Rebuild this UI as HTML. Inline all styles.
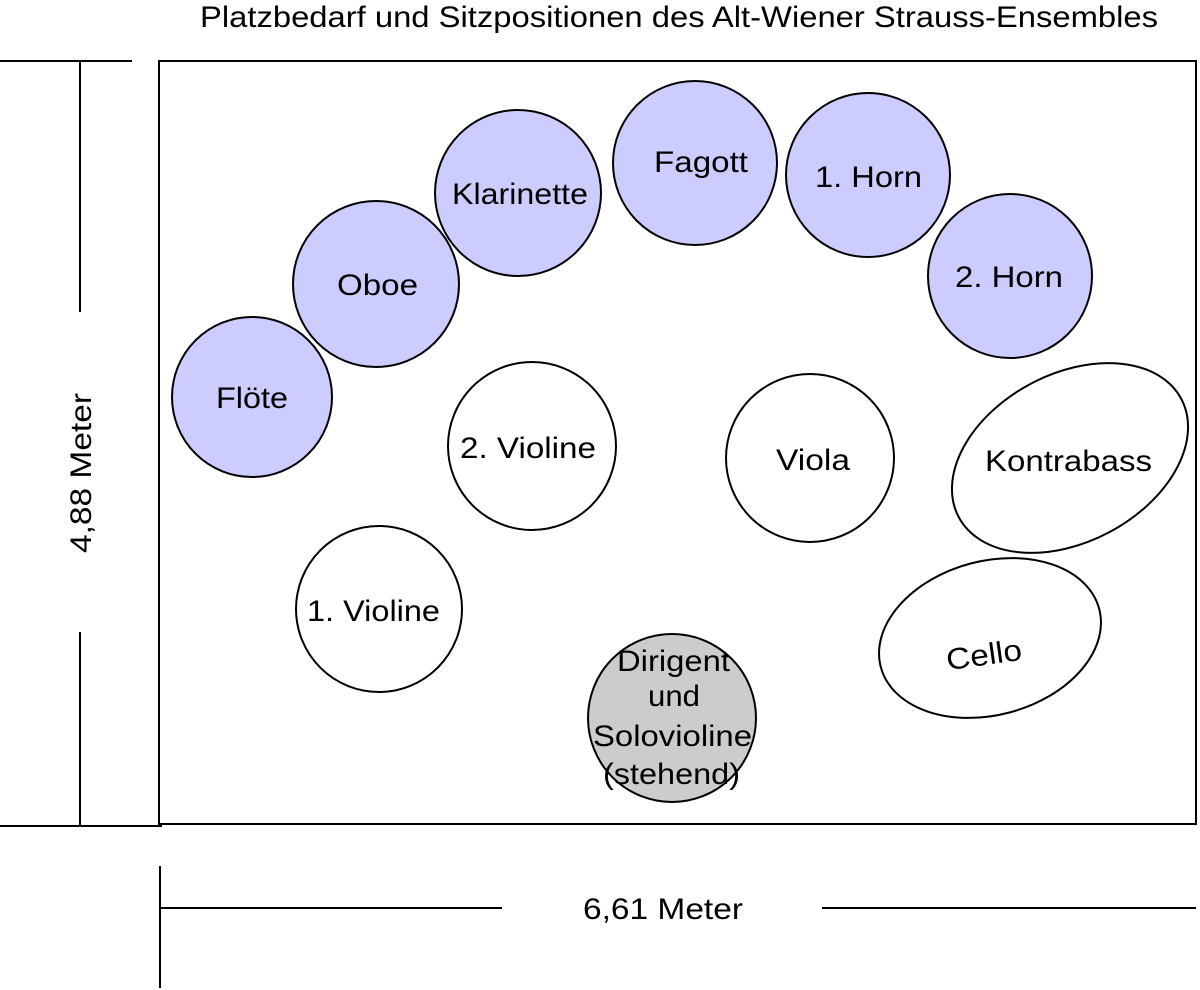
<!DOCTYPE html>
<html><head><meta charset="utf-8"><style>
html,body{margin:0;padding:0;background:#fff}
svg{display:block}
text{font-family:"Liberation Sans",Arial,sans-serif;fill:#000}
</style></head><body>
<svg width="1200" height="990" viewBox="0 0 1200 990" xmlns="http://www.w3.org/2000/svg">
<text x="200" y="27" font-size="30" textLength="958" lengthAdjust="spacingAndGlyphs">Platzbedarf und Sitzpositionen des Alt-Wiener Strauss-Ensembles</text>
<rect x="159" y="61" width="1037" height="763" fill="none" stroke="#000" stroke-width="2"/>
<g stroke="#000" stroke-width="2">
<line x1="0" y1="61" x2="132" y2="61"/>
<line x1="80" y1="61" x2="80" y2="312"/>
<line x1="80" y1="632" x2="80" y2="826"/>
<line x1="0" y1="826" x2="162" y2="826"/>
<line x1="160" y1="866" x2="160" y2="988"/>
<line x1="160" y1="908" x2="502" y2="908"/>
<line x1="822" y1="908" x2="1196" y2="908"/>
</g>
<text x="0" y="0" font-size="30" textLength="160" lengthAdjust="spacingAndGlyphs" transform="translate(91,553) rotate(-90)">4,88 Meter</text>
<text x="583" y="919" font-size="30" textLength="160" lengthAdjust="spacingAndGlyphs">6,61 Meter</text>
<g stroke="#000" stroke-width="2" fill="#ccccff">
<circle cx="252" cy="397" r="80"/>
<circle cx="376" cy="284" r="83"/>
<circle cx="518" cy="193" r="83"/>
<circle cx="695" cy="163" r="82"/>
<circle cx="868" cy="175" r="82"/>
<circle cx="1010" cy="276" r="82"/>
</g>
<g stroke="#000" stroke-width="2" fill="#fff">
<circle cx="532" cy="446" r="84"/>
<circle cx="810" cy="458" r="84"/>
<circle cx="379" cy="609" r="83"/>
<ellipse cx="1070" cy="458" rx="126" ry="84" transform="rotate(-28 1070 458)"/>
<ellipse cx="990" cy="638" rx="113" ry="77" transform="rotate(-15 990 638)"/>
</g>
<circle cx="672" cy="718" r="84" fill="#cccccc" stroke="#000" stroke-width="2"/>
<g font-size="30">
<text x="216" y="408" textLength="72" lengthAdjust="spacingAndGlyphs">Flöte</text>
<text x="337" y="295" textLength="81" lengthAdjust="spacingAndGlyphs">Oboe</text>
<text x="452" y="204" textLength="136" lengthAdjust="spacingAndGlyphs">Klarinette</text>
<text x="654" y="172" textLength="94" lengthAdjust="spacingAndGlyphs">Fagott</text>
<text x="815" y="187" textLength="107" lengthAdjust="spacingAndGlyphs">1. Horn</text>
<text x="955" y="287" textLength="108" lengthAdjust="spacingAndGlyphs">2. Horn</text>
<text x="460" y="458" textLength="136" lengthAdjust="spacingAndGlyphs">2. Violine</text>
<text x="776" y="470" textLength="74" lengthAdjust="spacingAndGlyphs">Viola</text>
<text x="985" y="471" textLength="167" lengthAdjust="spacingAndGlyphs">Kontrabass</text>
<text x="307" y="621" textLength="133" lengthAdjust="spacingAndGlyphs">1. Violine</text>
<text x="946" y="665" textLength="76" lengthAdjust="spacingAndGlyphs" transform="rotate(-8 984 655)">Cello</text>
<text x="617" y="671" textLength="113" lengthAdjust="spacingAndGlyphs">Dirigent</text>
<text x="648" y="706" textLength="52" lengthAdjust="spacingAndGlyphs">und</text>
<text x="593" y="746" textLength="159" lengthAdjust="spacingAndGlyphs">Solovioline</text>
<text x="603" y="784" textLength="137" lengthAdjust="spacingAndGlyphs">(stehend)</text>
</g>
</svg>
</body></html>
